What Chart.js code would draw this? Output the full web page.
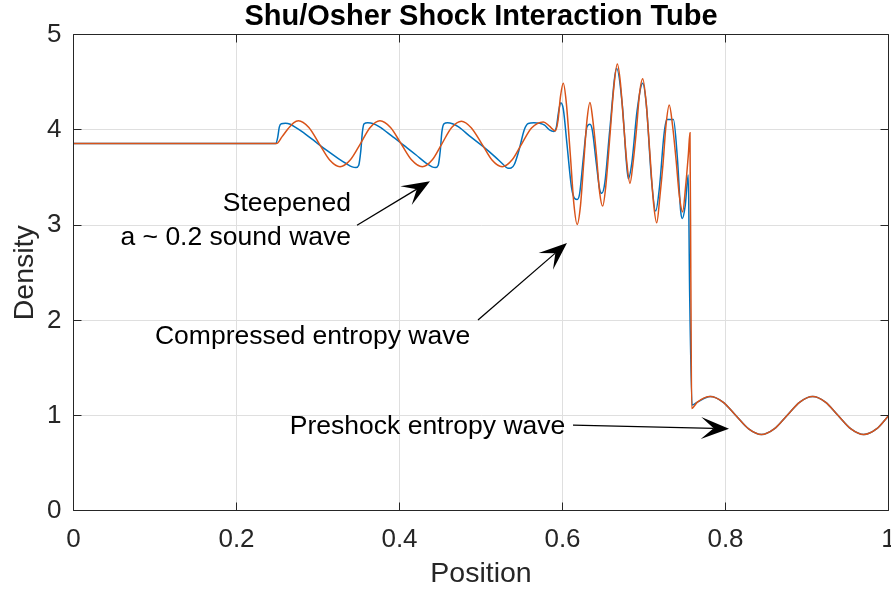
<!DOCTYPE html>
<html><head><meta charset="utf-8">
<script src="https://cdn.jsdelivr.net/npm/chart.js@4.4.1/dist/chart.umd.min.js"></script>
<style>html,body{margin:0;padding:0;background:#fff;}#wrap{width:891px;height:592px;}</style>
</head><body><div id="wrap"><canvas id="c" width="891" height="592"></canvas></div>
<script>
// ---- data ----
const xTickValues = [0, 0.2, 0.4, 0.6, 0.8, 1];
const xTickLabels = ['0', '0.2', '0.4', '0.6', '0.8', '1'];
const yTickValues = [0, 1, 2, 3, 4, 5];
const yTickLabels = ['0', '1', '2', '3', '4', '5'];

// blue series (steepened, up to the shock)
const blueX = [0, 0.248, 0.2505, 0.2525, 0.255, 0.26, 0.266, 0.272, 0.28, 0.2963, 0.31, 0.325, 0.335, 0.342, 0.3465, 0.35, 0.3525, 0.3545, 0.3565, 0.361, 0.368, 0.375, 0.39, 0.405, 0.42, 0.433, 0.44, 0.444, 0.4475, 0.45, 0.452, 0.4545, 0.459, 0.465, 0.472, 0.487, 0.502, 0.517, 0.527, 0.533, 0.537, 0.541, 0.547, 0.553, 0.558, 0.565, 0.572, 0.578, 0.584, 0.5895, 0.5925, 0.595, 0.5978, 0.601, 0.6055, 0.611, 0.615, 0.618, 0.621, 0.6255, 0.63, 0.6337, 0.6365, 0.6415, 0.6455, 0.6481, 0.652, 0.658, 0.6665, 0.6735, 0.6785, 0.6807, 0.685, 0.6915, 0.6984, 0.703, 0.709, 0.7143, 0.719, 0.7245, 0.7279, 0.7361, 0.741, 0.745, 0.747, 0.7505, 0.7543, 0.756, 0.759];
const blueY = [3.857, 3.857, 3.92, 4.03, 4.065, 4.07, 4.06, 4.03, 3.985, 3.88, 3.79, 3.70, 3.645, 3.612, 3.605, 3.63, 3.78, 3.98, 4.065, 4.075, 4.065, 4.035, 3.94, 3.84, 3.74, 3.65, 3.612, 3.605, 3.63, 3.78, 3.98, 4.065, 4.075, 4.065, 4.035, 3.93, 3.83, 3.72, 3.64, 3.597, 3.60, 3.64, 3.80, 4.00, 4.068, 4.075, 4.07, 4.05, 4.00, 3.985, 4.03, 4.18, 4.286, 4.22, 3.85, 3.40, 3.28, 3.27, 3.33, 3.70, 4.03, 4.06, 4.00, 3.65, 3.38, 3.334, 3.45, 4.00, 4.647, 4.25, 3.65, 3.49, 3.65, 4.20, 4.49, 4.25, 3.50, 3.148, 3.40, 3.95, 4.11, 4.11, 3.70, 3.15, 3.07, 3.20, 3.526, 2.30, 1.11];

// orange series (up to the shock)
const orangeX = [0, 0.249, 0.256, 0.263, 0.27, 0.276, 0.2888, 0.3015, 0.3143, 0.327, 0.3395, 0.352, 0.364, 0.376, 0.389, 0.402, 0.415, 0.428, 0.44, 0.452, 0.464, 0.476, 0.488, 0.501, 0.5135, 0.526, 0.538, 0.55, 0.562, 0.5765, 0.584, 0.5912, 0.5945, 0.5975, 0.601, 0.6045, 0.6095, 0.614, 0.618, 0.622, 0.626, 0.63, 0.6337, 0.637, 0.6415, 0.6455, 0.6493, 0.653, 0.6583, 0.663, 0.6673, 0.671, 0.675, 0.679, 0.6828, 0.6865, 0.6906, 0.6945, 0.6984, 0.7025, 0.707, 0.7115, 0.7156, 0.7195, 0.7233, 0.727, 0.731, 0.735, 0.7392, 0.7435, 0.7474, 0.751, 0.7545, 0.7564, 0.7575, 0.7585];
const orangeY = [3.857, 3.857, 3.93, 4.01, 4.075, 4.097, 4.026, 3.855, 3.684, 3.613, 3.684, 3.855, 4.026, 4.097, 4.026, 3.855, 3.684, 3.613, 3.684, 3.855, 4.026, 4.093, 4.024, 3.855, 3.684, 3.613, 3.684, 3.855, 4.02, 4.085, 4.04, 3.99, 4.10, 4.35, 4.49, 4.30, 3.75, 3.22, 3.008, 3.20, 3.65, 4.10, 4.29, 4.12, 3.75, 3.35, 3.20, 3.40, 3.95, 4.45, 4.692, 4.50, 4.07, 3.65, 3.439, 3.65, 3.99, 4.38, 4.538, 4.30, 3.78, 3.25, 3.025, 3.30, 3.64, 4.05, 4.262, 4.05, 3.70, 3.30, 3.14, 3.40, 3.75, 3.97, 2.40, 1.075];

// preshock entropy wave (both series)
const preshockX = [0.7655, 0.7812, 0.7969, 0.8127, 0.8284, 0.8441, 0.8598, 0.8755, 0.8912, 0.9069, 0.9226, 0.9382, 0.9539, 0.9696, 0.9853, 1.0];
const preshockY = [1.141, 1.200, 1.141, 1.000, 0.859, 0.800, 0.859, 1.000, 1.141, 1.200, 1.141, 1.000, 0.859, 0.800, 0.859, 0.998];

// ---- annotations (data coordinates) ----
const noteTexts = [
  {text: 'Steepened', x: 0.3405, y: 3.222, align: 'right'},
  {text: 'a ~ 0.2 sound wave', x: 0.3405, y: 2.864, align: 'right'},
  {text: 'Compressed entropy wave', x: 0.2933, y: 1.825, align: 'center'},
  {text: 'Preshock entropy wave', x: 0.4344, y: 0.879, align: 'center'}
];
const noteArrows = [
  {from: [0.3479, 2.999], to: [0.4374, 3.462]},
  {from: [0.4963, 2.003], to: [0.6055, 2.812]},
  {from: [0.6129, 0.900], to: [0.8043, 0.862]}
];

const FONT = '"Liberation Sans", Arial, Helvetica, sans-serif';
const AXC = '#262626';

function pts(xs, ys) { return xs.map((x, i) => ({x: x, y: ys[i]})); }
function alignPx(p) { return Math.round(p - 0.5) + 0.5; }

const boxPlugin = {
  id: 'boxTicks',
  afterDraw(chart) {
    const {ctx, chartArea: a, scales: {x, y}} = chart;
    const L = alignPx(a.left), R = alignPx(a.right), T = alignPx(a.top), B = alignPx(a.bottom);
    ctx.save();
    ctx.strokeStyle = AXC; ctx.lineWidth = 1;
    ctx.beginPath();
    ctx.rect(L, T, R - L, B - T);
    const tl = 8;
    xTickValues.forEach(v => {
      const p = alignPx(x.getPixelForValue(v));
      ctx.moveTo(p, B); ctx.lineTo(p, B - tl);
      ctx.moveTo(p, T); ctx.lineTo(p, T + tl);
    });
    yTickValues.forEach(v => {
      const p = alignPx(y.getPixelForValue(v));
      ctx.moveTo(L, p); ctx.lineTo(L + tl, p);
      ctx.moveTo(R, p); ctx.lineTo(R - tl, p);
    });
    ctx.stroke();

    // annotations
    ctx.fillStyle = '#000';
    ctx.font = '26.5px ' + FONT;
    ctx.textBaseline = 'middle';
    noteTexts.forEach(n => {
      ctx.textAlign = n.align;
      ctx.fillText(n.text, x.getPixelForValue(n.x), y.getPixelForValue(n.y));
    });
    noteArrows.forEach(ar => {
      const x1 = x.getPixelForValue(ar.from[0]), y1 = y.getPixelForValue(ar.from[1]);
      const x2 = x.getPixelForValue(ar.to[0]), y2 = y.getPixelForValue(ar.to[1]);
      const ang = Math.atan2(y2 - y1, x2 - x1);
      const HL = 28, HW = 11, notch = 0.55 * HL;
      ctx.strokeStyle = '#000'; ctx.lineWidth = 1.3;
      ctx.beginPath();
      ctx.moveTo(x1, y1);
      ctx.lineTo(x2 - Math.cos(ang) * notch, y2 - Math.sin(ang) * notch);
      ctx.stroke();
      ctx.save();
      ctx.translate(x2, y2); ctx.rotate(ang);
      ctx.beginPath();
      ctx.moveTo(0, 0);
      ctx.lineTo(-HL, -HW);
      ctx.lineTo(-notch, 0);
      ctx.lineTo(-HL, HW);
      ctx.closePath();
      ctx.fill();
      ctx.restore();
    });
    ctx.restore();
  }
};

new Chart(document.getElementById('c'), {
  type: 'line',
  data: {
    datasets: [
      {data: pts(blueX.concat(preshockX), blueY.concat(preshockY)), order: 2, borderColor: '#0072BD', borderWidth: 1.5, pointRadius: 0, fill: false, cubicInterpolationMode: 'monotone'},
      {data: pts(orangeX.concat(preshockX), orangeY.concat(preshockY)), order: 1, borderColor: '#D95319', borderWidth: 1.5, pointRadius: 0, fill: false, cubicInterpolationMode: 'monotone'}
    ]
  },
  options: {
    responsive: false,
    animation: false,
    events: [],
    layout: {padding: {left: 0, right: 2.5, top: 0, bottom: 0}},
    plugins: {
      legend: {display: false},
      tooltip: {enabled: false},
      title: {
        display: true, fullSize: false,
        text: 'Shu/Osher Shock Interaction Tube',
        color: '#000',
        font: {family: FONT, size: 29, weight: 'bold'},
        padding: {top: 0, bottom: 0}
      }
    },
    scales: {
      x: {
        type: 'linear', min: 0, max: 1,
        afterBuildTicks: s => { s.ticks = xTickValues.map(v => ({value: v})); },
        afterFit: s => { s.height = 81.3; s.paddingLeft = 0; s.paddingRight = 0; },
        ticks: {
          callback: (v, i) => xTickLabels[i],
          color: AXC, font: {family: FONT, size: 26}, padding: 13.5, maxRotation: 0, autoSkip: false
        },
        grid: {color: '#dfdfdf', lineWidth: 1, drawTicks: false},
        border: {display: false},
        title: {display: true, text: 'Position', color: AXC, font: {family: FONT, size: 28.5}, padding: {top: 0, bottom: 0.5}}
      },
      y: {
        type: 'linear', min: 0, max: 5,
        afterBuildTicks: s => { s.ticks = yTickValues.map(v => ({value: v})); },
        afterFit: s => { s.width = 73.5; s.paddingTop = 0; s.paddingBottom = 0; },
        ticks: {
          callback: (v, i) => yTickLabels[i],
          color: AXC, font: {family: FONT, size: 26}, padding: 12
        },
        grid: {color: '#dfdfdf', lineWidth: 1, drawTicks: false},
        border: {display: false},
        title: {display: true, text: 'Density', color: AXC, font: {family: FONT, size: 28.5}, padding: {top: 8, bottom: 0}}
      }
    }
  },
  plugins: [boxPlugin]
});
</script>
</body></html>
